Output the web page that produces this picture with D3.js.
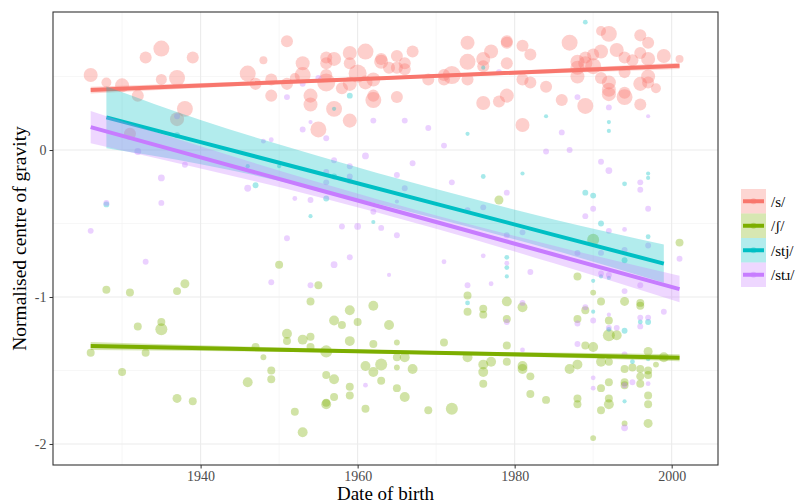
<!DOCTYPE html>
<html><head><meta charset="utf-8">
<script src="https://cdn.jsdelivr.net/npm/d3@7"></script>
<style>body{margin:0;background:#fff}svg{display:block}text{font-family:"Liberation Serif","DejaVu Serif",serif}</style>
</head><body><svg id="c" width="797" height="504"></svg>
<script>
// ---- data ----
const categories = ["/s/", "/ʃ/", "/stj/", "/stɹ/"];
const colours = ["#F8766D", "#7CAE00", "#00BFC4", "#C77CFF"];
const xTicks = [1940, 1960, 1980, 2000];
const yTicks = [-2, -1, 0];
// [year of birth, normalised CoG, n tokens]
const sPoints = [[1926,0.51,34],[1928,0.46,17],[1930,0.44,34],[1932,0.37,25],[1933,0.63,25],[1935,0.69,44],[1935,0.48,21],[1937,0.49,44],[1939,0.63,25],[1938,0.28,44],[1937,0.21,34],[1931,0.11,25],[1946,0.52,44],[1947,0.45,25],[1948,0.61,11],[1951,0.74,25],[1949,0.48,25],[1949,0.37,25],[1951,0.45,25],[1952,0.49,17],[1953,0.59,34],[1953,0.51,44],[1954,0.37,34],[1954,0.31,34],[1955,0.14,44],[1956,0.63,25],[1956,0.59,25],[1956,0.46,56],[1956,0.51,25],[1957,0.62,34],[1957,0.28,44],[1958,0.42,25],[1959,0.66,34],[1959,0.59,25],[1959,0.45,34],[1959,0.20,34],[1960,0.52,56],[1961,0.67,44],[1961,0.46,34],[1962,0.48,34],[1962,0.37,25],[1962,0.34,44],[1963,0.62,25],[1963,0.60,34],[1964,0.56,25],[1965,0.64,25],[1965,0.56,25],[1965,0.36,25],[1966,0.59,25],[1966,0.55,25],[1967,0.67,25],[1969,0.48,25],[1971,0.51,25],[1971,0.48,25],[1972,0.51,56],[1974,0.73,34],[1974,0.60,44],[1974,0.48,25],[1976,0.62,34],[1976,0.57,25],[1976,0.32,34],[1977,0.67,34],[1978,0.33,25],[1979,0.74,25],[1979,0.73,25],[1979,0.59,25],[1979,0.37,34],[1981,0.71,25],[1981,0.48,25],[1981,0.17,34],[1982,0.65,25],[1982,0.46,25],[1984,0.43,25],[1986,0.34,25],[1987,0.73,44],[1988,0.60,34],[1988,0.56,34],[1988,0.50,34],[1989,0.63,25],[1989,0.30,44],[1989,0.59,34],[1990,0.65,25],[1990,0.57,44],[1991,0.81,17],[1992,0.79,44],[1991,0.67,34],[1991,0.49,25],[1992,0.46,34],[1992,0.41,34],[1992,0.38,34],[1993,0.68,34],[1994,0.63,25],[1994,0.53,25],[1994,0.39,25],[1994,0.36,44],[1995,0.61,25],[1996,0.78,25],[1996,0.66,25],[1996,0.45,34],[1996,0.31,25],[1997,0.73,25],[1997,0.62,34],[1997,0.50,34],[1997,0.46,25],[1998,0.42,17],[1999,0.64,34],[2001,0.62,11]];
const shPoints = [[1928,-0.95,11],[1931,-0.97,11],[1937,-0.96,11],[1938,-0.91,14],[1932,-1.20,11],[1935,-1.17,11],[1935,-1.22,25],[1926,-1.38,11],[1933,-1.38,11],[1947,-1.34,11],[1930,-1.51,11],[1946,-1.58,17],[1937,-1.69,14],[1939,-1.71,11],[1950,-0.78,11],[1948,-1.41,6],[1949,-1.50,11],[1949,-1.56,11],[1951,-1.25,17],[1951,-1.30,11],[1952,-1.78,11],[1953,-1.29,17],[1953,-1.92,17],[1954,-1.03,11],[1954,-1.27,11],[1954,-1.34,11],[1955,-0.92,11],[1956,-1.37,25],[1956,-1.53,11],[1956,-1.73,17],[1956,-1.72,11],[1957,-1.16,17],[1957,-1.56,17],[1957,-1.68,11],[1958,-1.19,11],[1959,-1.09,17],[1959,-1.30,17],[1959,-1.61,11],[1959,-1.67,11],[1960,-1.17,11],[1961,-1.47,17],[1961,-1.76,11],[1962,-1.06,17],[1962,-1.32,11],[1962,-1.51,17],[1963,-1.46,25],[1963,-1.57,11],[1964,-1.19,17],[1965,-1.31,6],[1965,-1.41,11],[1965,-1.48,6],[1965,-1.62,11],[1966,-1.41,17],[1966,-1.68,17],[1967,-1.49,17],[1969,-1.77,11],[1971,-1.31,11],[1972,-1.76,25],[1974,-0.99,11],[1974,-1.10,11],[1974,-1.41,17],[1976,-1.08,11],[1976,-1.12,11],[1976,-1.46,17],[1976,-1.51,17],[1976,-1.59,11],[1977,-1.44,17],[1978,-0.34,14],[1979,-1.03,17],[1979,-1.15,11],[1979,-1.33,11],[1979,-1.44,11],[1981,-1.07,17],[1981,-1.47,17],[1981,-1.49,17],[1982,-1.54,11],[1982,-1.66,11],[1984,-1.70,11],[1987,-1.49,17],[1988,-0.86,11],[1988,-1.15,11],[1988,-1.46,17],[1988,-1.69,11],[1988,-1.73,11],[1989,-1.09,11],[1989,-1.33,11],[1990,-0.61,25],[1990,-0.97,6],[1990,-1.34,17],[1990,-1.96,6],[1991,-1.03,11],[1991,-1.44,17],[1991,-1.62,11],[1991,-1.77,11],[1992,-1.16,11],[1992,-1.26,25],[1992,-1.44,11],[1992,-1.58,11],[1992,-1.69,11],[1992,-1.73,17],[1993,-1.26,17],[1994,-1.03,14],[1994,-1.49,11],[1994,-1.58,11],[1994,-1.60,11],[1994,-1.86,6],[1995,-1.48,11],[1996,-1.04,11],[1996,-1.06,11],[1996,-1.49,11],[1996,-1.54,11],[1996,-1.59,11],[1997,-1.37,14],[1997,-1.50,11],[1997,-1.53,11],[1997,-1.67,11],[1997,-1.73,11],[1997,-1.86,14],[1998,-1.46,6],[1999,-1.41,17],[2001,-0.63,11]];
const stjPoints = [[1928,-0.37,6],[1937,0.10,6],[1946,-0.11,3],[1947,-0.24,6],[1959,0.37,6],[1957,0.28,3],[1974,0.11,3],[1976,0.56,3],[1950,-0.11,3],[1957,-0.18,6],[1956,-0.33,6],[1954,-0.45,3],[1962,-0.49,3],[1976,-0.18,4],[1981,-0.16,3],[1989,0.87,4],[1984,0.23,3],[1992,0.19,3],[1992,0.13,3],[1997,-0.16,3],[1997,-0.19,3],[1994,-0.23,4],[1989,-0.29,6],[1990,-0.31,6],[1991,-0.50,6],[1997,-0.59,4],[1979,-0.73,4],[1979,-0.80,4],[1979,-0.86,3],[1974,-1.04,4],[1990,-0.89,3],[1990,-1.10,3],[1992,-1.22,4],[1994,-1.23,6],[1996,-1.17,4],[1997,-1.17,6],[1994,-1.71,3],[1995,-1.44,4],[1997,-1.42,4],[1992,-0.87,3],[1991,-0.86,3],[1994,-0.75,6]];
const strPoints = [[1937,0.23,6],[1932,-0.01,8],[1938,-0.10,6],[1935,-0.19,8],[1946,-0.26,8],[1928,-0.36,6],[1935,-0.36,6],[1926,-0.55,6],[1933,-0.76,6],[1948,0.06,4],[1949,0.07,4],[1951,0.36,6],[1953,0.45,6],[1955,0.49,6],[1954,0.19,3],[1953,0.14,6],[1956,0.08,6],[1962,0.20,6],[1966,0.20,6],[1969,0.15,6],[1971,0.03,6],[1961,-0.04,8],[1957,-0.07,6],[1959,-0.11,6],[1967,-0.09,6],[1956,-0.15,6],[1956,-0.22,6],[1959,-0.18,6],[1959,-0.21,6],[1965,-0.17,6],[1972,-0.22,6],[1966,-0.26,6],[1979,-0.29,6],[1952,-0.33,4],[1954,-0.34,6],[1965,-0.35,3],[1976,-0.39,6],[1974,-0.41,6],[1962,-0.42,6],[1958,-0.52,6],[1960,-0.52,8],[1963,-0.53,6],[1951,-0.60,6],[1965,-0.58,6],[1979,-0.58,6],[1981,-0.56,6],[1978,0.53,6],[1988,0.36,6],[1992,0.29,6],[1997,0.23,3],[1986,0.12,6],[1984,-0.01,6],[1987,0.00,6],[1991,-0.08,6],[1992,-0.14,8],[1996,-0.22,6],[1996,-0.27,6],[1990,-0.40,6],[1997,-0.40,6],[1989,-0.45,6],[1992,-0.55,6],[1994,-0.54,4],[1994,-0.68,6],[1997,-0.65,6],[1949,-0.90,6],[1954,-0.92,6],[1957,-0.78,8],[1959,-0.73,6],[1964,-0.85,3],[1971,-0.76,4],[1976,-0.72,4],[1974,-0.92,6],[1977,-0.91,4],[1979,-0.77,4],[1979,-1.17,6],[1961,-1.60,4],[1981,-1.04,6],[1981,-1.36,4],[1988,-1.18,6],[1989,-1.07,6],[1990,-1.16,6],[1992,-1.12,3],[1992,-1.21,6],[1993,-1.21,6],[1994,-0.96,6],[1996,-1.14,6],[1996,-1.20,6],[1997,-1.14,6],[1999,-1.10,6],[1988,-1.32,6],[1994,-1.39,6],[1990,-1.55,4],[1990,-1.62,4],[1995,-1.58,6],[1997,-1.59,4],[1994,-1.89,8],[1994,-1.60,6],[2001,-0.74,6],[1982,-0.83,6],[1991,-0.84,6],[1992,-0.85,6],[1996,-0.92,6],[1988,-0.70,6],[1991,-0.70,6]];
// fitted lines with confidence band: [year, fit, lower, upper]
const sFit = [[1926,0.408,0.385,0.431],[1963,0.489,0.478,0.500],[2001,0.573,0.552,0.594]];
const shFit = [[1926,-1.333,-1.360,-1.306],[1963,-1.372,-1.384,-1.360],[2001,-1.413,-1.437,-1.389]];
const stjFit = [[1928,0.222,0.012,0.432],[1940,0.054,-0.096,0.204],[1955,-0.156,-0.271,-0.041],[1970,-0.366,-0.466,-0.266],[1985,-0.577,-0.682,-0.472],[1999,-0.773,-0.903,-0.643]];
const strFit = [[1926,0.156,0.046,0.266],[1940,-0.050,-0.125,0.025],[1955,-0.270,-0.320,-0.220],[1970,-0.490,-0.535,-0.445],[1985,-0.711,-0.771,-0.651],[2001,-0.946,-1.036,-0.856]];

const pointSets = [sPoints, shPoints, stjPoints, strPoints];
const fitSets = [sFit, shFit, stjFit, strFit];

// ---- chart ----
const FONT = '"Liberation Serif", "DejaVu Serif", serif';
const svg = d3.select("#c");
const L = 53, R = 718, T = 12, B = 465;
const x = d3.scaleLinear().domain([1921.2, 2005.9]).range([L, R]);
const y = d3.scaleLinear().domain([-2.143, 0.939]).range([B, T]);
const r = d3.scaleSqrt().domain([0, 50]).range([0, 8.5]);

svg.append("rect").attr("x", L).attr("y", T).attr("width", R - L).attr("height", B - T).attr("fill", "#fff");
const xMinor = [1930, 1950, 1970, 1990];
const yMinor = [-1.5, -0.5, 0.5];
const grid = svg.append("g");
grid.selectAll(".xm").data(xMinor).join("line").attr("x1", d => x(d)).attr("x2", d => x(d)).attr("y1", T).attr("y2", B).attr("stroke", "#f2f2f2").attr("stroke-width", 0.6);
grid.selectAll(".ym").data(yMinor).join("line").attr("y1", d => y(d)).attr("y2", d => y(d)).attr("x1", L).attr("x2", R).attr("stroke", "#f2f2f2").attr("stroke-width", 0.6);
grid.selectAll(".xM").data(xTicks).join("line").attr("x1", d => x(d)).attr("x2", d => x(d)).attr("y1", T).attr("y2", B).attr("stroke", "#ebebeb").attr("stroke-width", 1.1);
grid.selectAll(".yM").data(yTicks).join("line").attr("y1", d => y(d)).attr("y2", d => y(d)).attr("x1", L).attr("x2", R).attr("stroke", "#ebebeb").attr("stroke-width", 1.1);

pointSets.forEach((pts, i) => {
  svg.append("g").selectAll("circle").data(pts).join("circle")
    .attr("cx", d => x(d[0])).attr("cy", d => y(d[1])).attr("r", d => r(d[2]))
    .attr("fill", colours[i]).attr("fill-opacity", 0.35);
});

const area = d3.area().x(d => x(d[0])).y0(d => y(d[2])).y1(d => y(d[3])).curve(d3.curveMonotoneX);
const line = d3.line().x(d => x(d[0])).y(d => y(d[1]));
fitSets.forEach((f, i) => {
  svg.append("path").datum(f).attr("d", area).attr("fill", colours[i]).attr("fill-opacity", 0.3);
  svg.append("path").datum(f).attr("d", line).attr("fill", "none").attr("stroke", colours[i]).attr("stroke-width", 4);
});

svg.append("rect").attr("x", L).attr("y", T).attr("width", R - L).attr("height", B - T).attr("fill", "none").attr("stroke", "#333").attr("stroke-width", 1.1);

const xAxis = svg.append("g").attr("transform", `translate(0,${B})`).call(d3.axisBottom(x).tickValues(xTicks).tickFormat(d3.format("d")).tickSize(3.5).tickPadding(3));
const yAxis = svg.append("g").attr("transform", `translate(${L},0)`).call(d3.axisLeft(y).tickValues(yTicks).tickFormat(d => d < 0 ? "-" + Math.abs(d) : d).tickSize(3.5).tickPadding(3));
[xAxis, yAxis].forEach(a => {
  a.attr("font-family", FONT).attr("font-size", 14);
  a.select(".domain").remove();
  a.selectAll(".tick line").attr("stroke", "#333");
  a.selectAll(".tick text").attr("fill", "#4d4d4d").style("font-size", "14px").style("font-family", FONT);
});

svg.append("text").attr("x", (L + R) / 2).attr("y", 500).attr("text-anchor", "middle").style("font-family", FONT).style("font-size", "19px").attr("fill", "#000").text("Date of birth");
svg.append("text").attr("transform", `translate(26,${(T + B) / 2}) rotate(-90)`).attr("text-anchor", "middle").style("font-family", FONT).style("font-size", "19.5px").attr("fill", "#000").text("Normalised centre of gravity");

const lg = svg.append("g");
categories.forEach((c, i) => {
  const ky = 189 + i * 24.5;
  lg.append("rect").attr("x", 741).attr("y", ky).attr("width", 25).attr("height", 24.5).attr("fill", colours[i]).attr("fill-opacity", 0.3);
  lg.append("circle").attr("cx", 753.5).attr("cy", ky + 12.25).attr("r", 3).attr("fill", colours[i]).attr("fill-opacity", 0.35);
  lg.append("line").attr("x1", 743).attr("x2", 764).attr("y1", ky + 12.25).attr("y2", ky + 12.25).attr("stroke", colours[i]).attr("stroke-width", 4);
  lg.append("text").attr("x", 771).attr("y", ky + 12.25).attr("dy", "0.35em").style("font-family", FONT).style("font-size", "15px").attr("fill", "#000").text(c);
});
</script></body></html>
